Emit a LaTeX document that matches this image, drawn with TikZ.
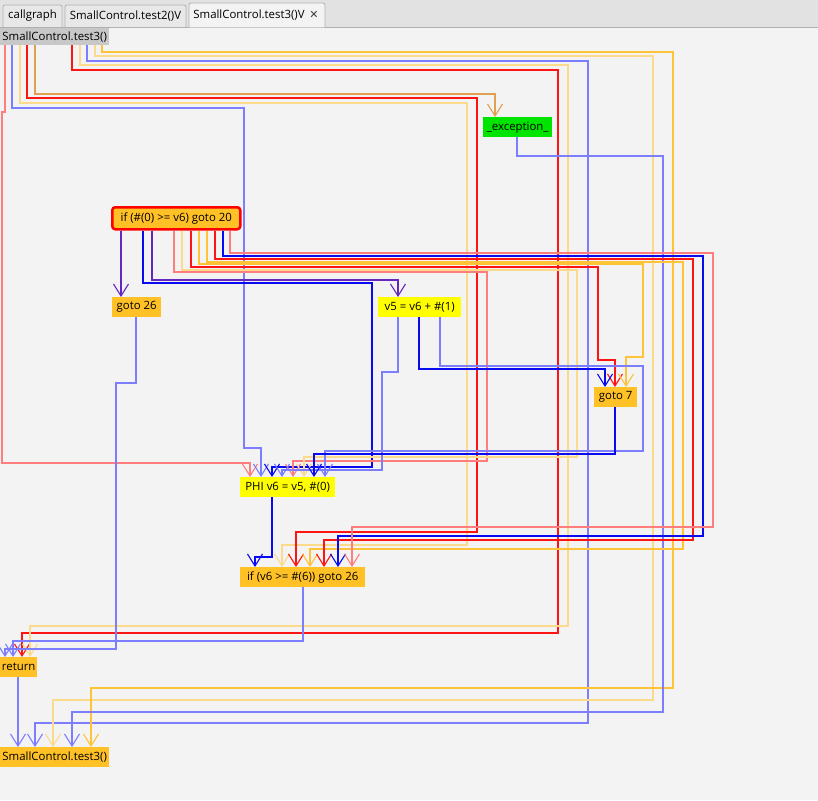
\documentclass[tikz,border=0pt]{standalone}
\usepackage{fontspec}
\setmainfont{Open Sans}
\newfontfamily\symfont{DejaVu Sans}
\usetikzlibrary{arrows.meta}

\definecolor{canvas}{RGB}{243,243,243}
\definecolor{tabbar}{RGB}{226,226,226}
\definecolor{tabfill}{RGB}{232,232,232}
\definecolor{tabedge}{RGB}{176,176,176}
\definecolor{labelgray}{RGB}{200,200,200}
\definecolor{nodeorange}{RGB}{255,193,37}
\definecolor{nodeyellow}{RGB}{255,255,0}
\definecolor{nodegreen}{RGB}{0,228,0}
\definecolor{redL}{RGB}{255,125,125}
\definecolor{redT}{RGB}{255,20,20}
\definecolor{blueL}{RGB}{125,125,255}
\definecolor{blueT}{RGB}{10,10,240}
\definecolor{yelL}{RGB}{252,218,140}
\definecolor{yelT}{RGB}{255,195,55}
\definecolor{excC}{RGB}{225,160,80}
\definecolor{purp}{RGB}{100,40,190}

\begin{document}
\begin{tikzpicture}[x=1pt,y=-1pt,
  font=\fontsize{11.4}{14}\selectfont,
  box/.style={inner sep=0pt,anchor=north west,text=black},
  onode/.style={box,fill=nodeorange},
  ynode/.style={box,fill=nodeyellow},
  tip/.style={-{Straight Barb[length=12pt,width=15pt,line width=1.1pt]}},
  eRL/.style={tip,draw=redL,line width=1.6pt},
  eRT/.style={tip,draw=redT,line width=1.1pt},
  eBL/.style={tip,draw=blueL,line width=1.6pt},
  eBT/.style={tip,draw=blueT,line width=1.1pt},
  eYL/.style={tip,draw=yelL,line width=1.6pt},
  eYT/.style={tip,draw=yelT,line width=1.1pt},
  eEX/.style={tip,draw=excC,line width=1.6pt},
  ePU/.style={tip,draw=purp,line width=1.3pt},
  tabshape/.style={fill=tabfill,draw=tabedge,line width=0.8pt}
]
\useasboundingbox (0,0) rectangle (818,800);
\fill[canvas] (0,0) rectangle (818,800);

% tab strip
\fill[tabbar] (0,0) rectangle (818,27);
\draw[tabedge,line width=0.8pt] (0,27) -- (818,27);
\draw[tabshape] (3,27) [rounded corners=2pt] -- (3,5) -- (62,5) [sharp corners] -- (62,27);
\draw[tabshape] (65,27) [rounded corners=2pt] -- (65,5) -- (186,5) [sharp corners] -- (186,27);
\draw[tabshape,fill=canvas] (189,27.5) [rounded corners=2pt] -- (189,3) -- (325,3) [sharp corners] -- (325,27.5);
\node[text=black] (tab1) at (32.5,16) {callgraph};
\node[text=black] (tab2) at (125.5,16) {SmallControl.test2()V};
\node[text=black] (tab3) at (249,15.5) {SmallControl.test3()V};
\node[text=black!75] (tabx) at (314,15) {\symfont\fontsize{11}{12}\selectfont ✕};

% nodes
\node[box,fill=labelgray,minimum width=109pt,minimum height=17pt] (start) at (0,28) {SmallControl.test3()};
\node[box,fill=nodegreen,minimum width=69pt,minimum height=20pt] (exc) at (483,117) {\_exception\_};
\node[onode,draw=red,line width=2.5pt,rounded corners=3pt,minimum width=128pt,minimum height=22pt] (ifa) at (111,206) {if (\#(0) >= v6) goto 20};
\node[onode,minimum width=49pt,minimum height=20pt] (g26) at (112,297) {goto 26};
\node[ynode,minimum width=83pt,minimum height=20pt] (v5) at (378,297) {v5 = v6 + \#(1)};
\node[onode,minimum width=43pt,minimum height=20pt] (g7) at (594,387) {goto 7};
\node[ynode,minimum width=95pt,minimum height=20pt] (phi) at (240,477) {PHI v6 = v5, \#(0)};
\node[onode,minimum width=125pt,minimum height=20pt] (ifb) at (240,567) {if (v6 >= \#(6)) goto 26};
\node[onode,minimum width=37pt,minimum height=20pt] (ret) at (0,657) {return};
\node[onode,minimum width=109pt,minimum height=20pt] (fin) at (0,747) {SmallControl.test3()};

% edges leaving the entry label
\draw[eRL] (start.south -| 5,0) -- (5,112) -- (2,112) -- (2,463) -- (250,463) -- (phi.north -| 250,0);
\draw[eBL] (start.south -| 12,0) -- (12,108) -- (244,108) -- (244,448) -- (261,448) -- (phi.north -| 261,0);
\draw[eYL] (start.south -| 20,0) -- (20,103) -- (467,103) -- (467,545) -- (282,545) -- (ifb.north -| 282,0);
\draw[eRT] (start.south -| 27,0) -- (27,98) -- (477,98) -- (477,532) -- (296,532) -- (ifb.north -| 296,0);
\draw[eEX] (start.south -| 35,0) -- (35,94) -- (495,94) -- (exc.north -| 495,0);
\draw[eRT] (start.south -| 72,0) -- (72,70) -- (558,70) -- (558,633) -- (22,633) -- (ret.north -| 22,0);
\draw[eYL] (start.south -| 80,0) -- (80,65) -- (568,65) -- (568,626) -- (30,626) -- (ret.north -| 30,0);
\draw[eBL] (start.south -| 87,0) -- (87,61) -- (588,61) -- (588,723) -- (35,723) -- (fin.north -| 35,0);
\draw[eYL] (start.south -| 95,0) -- (95,56) -- (653,56) -- (653,700) -- (53,700) -- (fin.north -| 53,0);
\draw[eYT] (start.south -| 102,0) -- (102,52) -- (673,52) -- (673,688) -- (91,688) -- (fin.north -| 91,0);

% exception handler
\draw[eBL] (exc.south -| 517,0) -- (517,156) -- (663,156) -- (663,712) -- (72,712) -- (fin.north -| 72,0);

% first branch
\draw[ePU] (ifa.south -| 121,0) -- (g26.north -| 121,0);
\draw[eBT] (ifa.south -| 143,0) -- (143,283) -- (372,283) -- (372,467) -- (272,467) -- (phi.north -| 272,0);
\draw[ePU] (ifa.south -| 152,0) -- (152,280) -- (398,280) -- (v5.north -| 398,0);
\draw[eRL] (ifa.south -| 174,0) -- (174,272) -- (487,272) -- (487,461) -- (293,461) -- (phi.north -| 293,0);
\draw[eYL] (ifa.south -| 182,0) -- (182,270) -- (577,270) -- (577,457) -- (304,457) -- (phi.north -| 304,0);
\draw[eRT] (ifa.south -| 191,0) -- (191,267) -- (598,267) -- (598,360) -- (615,360) -- (g7.north -| 615,0);
\draw[eYT] (ifa.south -| 199,0) -- (199,264) -- (643,264) -- (643,357) -- (626,357) -- (g7.north -| 626,0);
\draw[eYT] (ifa.south -| 207,0) -- (207,262) -- (683,262) -- (683,549) -- (310,549) -- (ifb.north -| 310,0);
\draw[eRT] (ifa.south -| 215,0) -- (215,259) -- (693,259) -- (693,540) -- (324,540) -- (ifb.north -| 324,0);
\draw[eBT] (ifa.south -| 223,0) -- (223,256) -- (703,256) -- (703,536) -- (338,536) -- (ifb.north -| 338,0);
\draw[eRL] (ifa.south -| 230,0) -- (230,253) -- (713,253) -- (713,527) -- (352,527) -- (ifb.north -| 352,0);

% goto 26
\draw[eBL] (g26.south -| 136,0) -- (136,383) -- (116,383) -- (116,649) -- (5,649) -- (ret.north -| 5,0);

% loop body
\draw[eBL] (v5.south -| 398,0) -- (398,372) -- (382,372) -- (382,470) -- (282,470) -- (phi.north -| 282,0);
\draw[eBT] (v5.south -| 419,0) -- (419,369) -- (605,369) -- (g7.north -| 605,0);
\draw[eBL] (v5.south -| 440,0) -- (440,366) -- (643,366) -- (643,451) -- (325,451) -- (phi.north -| 325,0);
\draw[eBT] (g7.south -| 615,0) -- (615,454) -- (314,454) -- (phi.north -| 314,0);

% loop header and exit
\draw[eBT,line width=1.4pt] (phi.south -| 272,0) -- (272,557) -- (255,557) -- (ifb.north -| 255,0);
\draw[eBL] (ifb.south -| 303,0) -- (303,641) -- (13,641) -- (ret.north -| 13,0);
\draw[eBL] (ret.south -| 18,0) -- (fin.north -| 18,0);
\end{tikzpicture}
\end{document}
